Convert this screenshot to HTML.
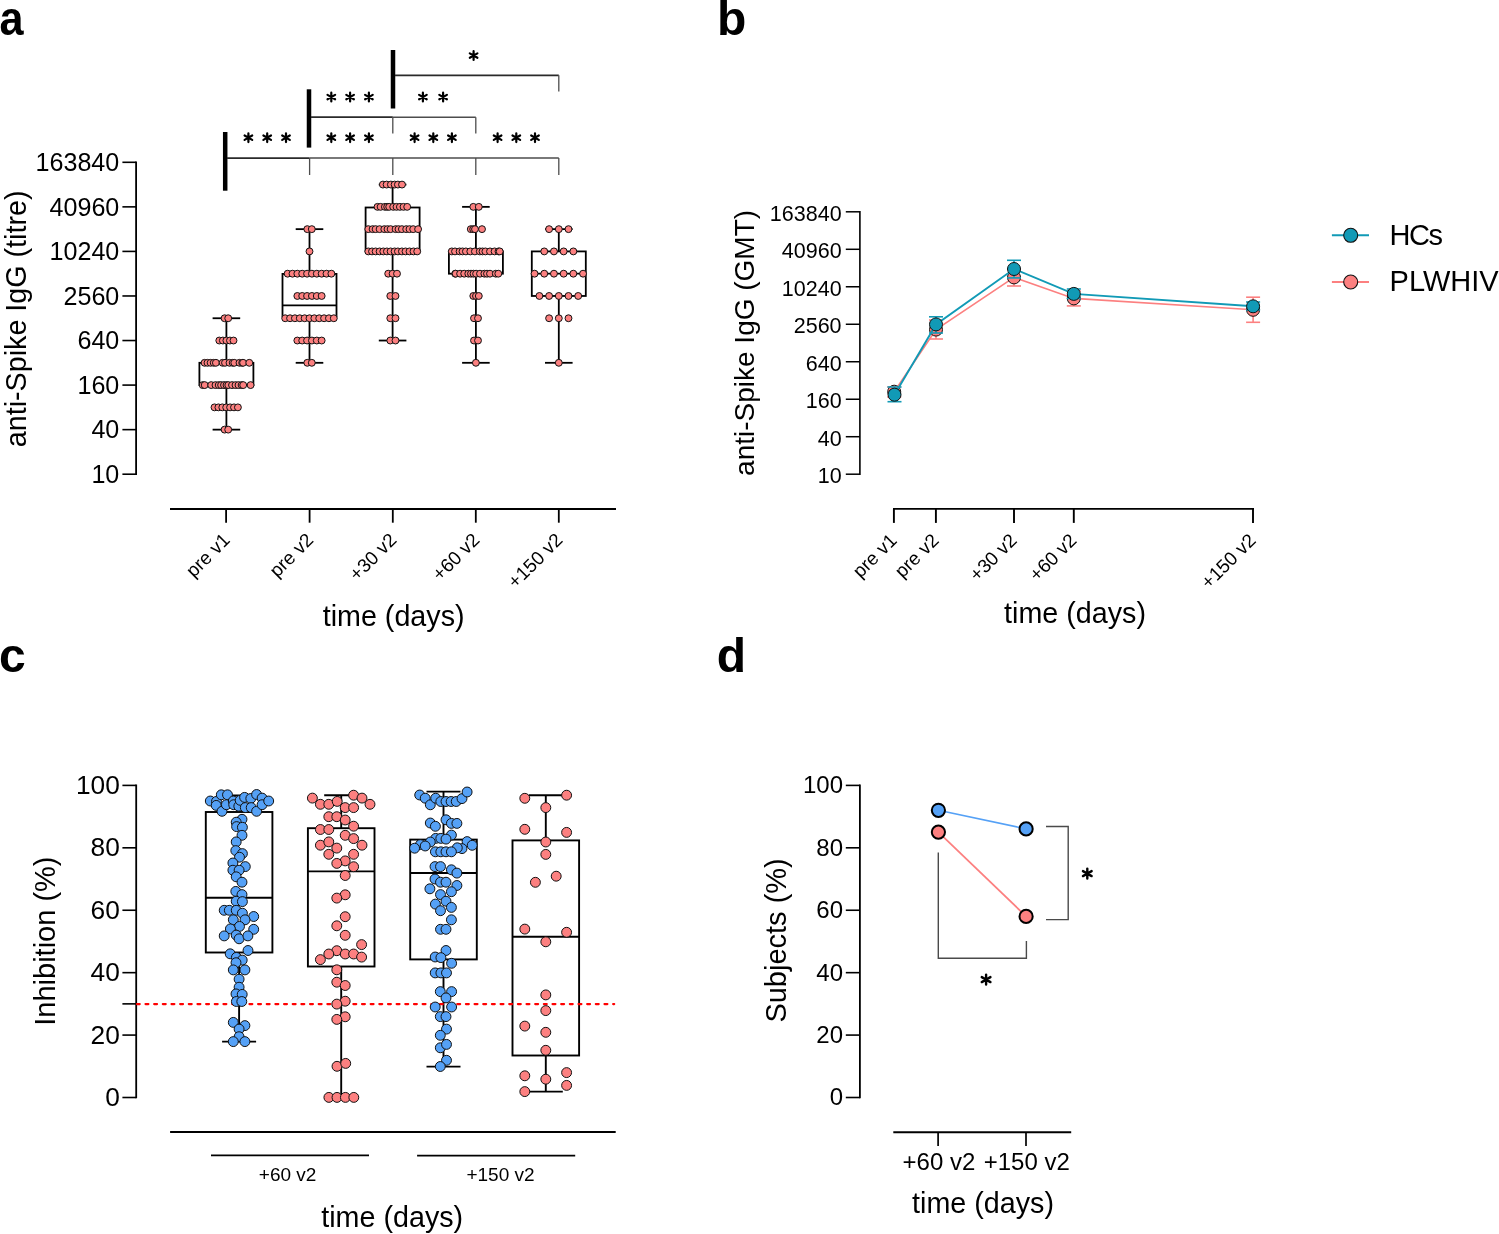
<!DOCTYPE html>
<html><head><meta charset="utf-8"><style>
html,body{margin:0;padding:0;background:#fff;}
svg{display:block;}
text{font-family:"Liberation Sans", sans-serif;}
</style></head><body>
<svg style="will-change:transform" width="1499" height="1234" viewBox="0 0 1499 1234">
<rect width="1499" height="1234" fill="#fff"/>
<text x="0" y="0" font-size="48" font-weight="bold" transform="translate(-0.4,35.2) scale(0.9,1.02)">a</text>
<text x="717.00" y="35.00" font-size="48" text-anchor="start" font-weight="bold" fill="#000">b</text>
<text x="-1.00" y="671.50" font-size="48" text-anchor="start" font-weight="bold" fill="#000">c</text>
<text x="716.70" y="671.50" font-size="48" text-anchor="start" font-weight="bold" fill="#000">d</text>
<line x1="136.10" y1="161.50" x2="136.10" y2="475.00" stroke="#000" stroke-width="1.8"/>
<line x1="122.40" y1="162.30" x2="136.10" y2="162.30" stroke="#000" stroke-width="1.6"/>
<text x="119.30" y="171.10" font-size="25.1" text-anchor="end" font-weight="normal" fill="#000">163840</text>
<line x1="122.40" y1="206.86" x2="136.10" y2="206.86" stroke="#000" stroke-width="1.6"/>
<text x="119.30" y="215.66" font-size="25.1" text-anchor="end" font-weight="normal" fill="#000">40960</text>
<line x1="122.40" y1="251.41" x2="136.10" y2="251.41" stroke="#000" stroke-width="1.6"/>
<text x="119.30" y="260.21" font-size="25.1" text-anchor="end" font-weight="normal" fill="#000">10240</text>
<line x1="122.40" y1="295.97" x2="136.10" y2="295.97" stroke="#000" stroke-width="1.6"/>
<text x="119.30" y="304.77" font-size="25.1" text-anchor="end" font-weight="normal" fill="#000">2560</text>
<line x1="122.40" y1="340.53" x2="136.10" y2="340.53" stroke="#000" stroke-width="1.6"/>
<text x="119.30" y="349.33" font-size="25.1" text-anchor="end" font-weight="normal" fill="#000">640</text>
<line x1="122.40" y1="385.09" x2="136.10" y2="385.09" stroke="#000" stroke-width="1.6"/>
<text x="119.30" y="393.89" font-size="25.1" text-anchor="end" font-weight="normal" fill="#000">160</text>
<line x1="122.40" y1="429.64" x2="136.10" y2="429.64" stroke="#000" stroke-width="1.6"/>
<text x="119.30" y="438.44" font-size="25.1" text-anchor="end" font-weight="normal" fill="#000">40</text>
<line x1="122.40" y1="474.20" x2="136.10" y2="474.20" stroke="#000" stroke-width="1.6"/>
<text x="119.30" y="483.00" font-size="25.1" text-anchor="end" font-weight="normal" fill="#000">10</text>
<text x="26.30" y="318.90" font-size="28.7" text-anchor="middle" font-weight="normal" fill="#000" transform="rotate(-90 26.3 318.9)">anti-Spike IgG (titre)</text>
<line x1="170.00" y1="508.90" x2="616.00" y2="508.90" stroke="#000" stroke-width="2.0"/>
<line x1="226.10" y1="508.90" x2="226.10" y2="522.70" stroke="#000" stroke-width="1.8"/>
<line x1="309.60" y1="508.90" x2="309.60" y2="522.70" stroke="#000" stroke-width="1.8"/>
<line x1="392.80" y1="508.90" x2="392.80" y2="522.70" stroke="#000" stroke-width="1.8"/>
<line x1="475.80" y1="508.90" x2="475.80" y2="522.70" stroke="#000" stroke-width="1.8"/>
<line x1="558.80" y1="508.90" x2="558.80" y2="522.70" stroke="#000" stroke-width="1.8"/>
<text x="0" y="0" font-size="19" text-anchor="end" transform="translate(231.10,541.00) rotate(-45)">pre v1</text>
<text x="0" y="0" font-size="19" text-anchor="end" transform="translate(314.60,541.00) rotate(-45)">pre v2</text>
<text x="0" y="0" font-size="19" text-anchor="end" transform="translate(397.80,541.00) rotate(-45)">+30 v2</text>
<text x="0" y="0" font-size="19" text-anchor="end" transform="translate(480.80,541.00) rotate(-45)">+60 v2</text>
<text x="0" y="0" font-size="19" text-anchor="end" transform="translate(563.80,541.00) rotate(-45)">+150 v2</text>
<text x="393.60" y="626.10" font-size="28.7" text-anchor="middle" font-weight="normal" fill="#000">time (days)</text>
<line x1="226.40" y1="318.25" x2="226.40" y2="362.81" stroke="#000" stroke-width="1.8"/>
<line x1="226.40" y1="385.09" x2="226.40" y2="429.64" stroke="#000" stroke-width="1.8"/>
<line x1="212.60" y1="318.25" x2="240.20" y2="318.25" stroke="#000" stroke-width="1.8"/>
<line x1="212.60" y1="429.64" x2="240.20" y2="429.64" stroke="#000" stroke-width="1.8"/>
<rect x="199.40" y="362.81" width="54.00" height="22.28" fill="none" stroke="#000" stroke-width="1.8"/>
<circle cx="224.60" cy="318.25" r="3.45" fill="#FC8080" stroke="#111" stroke-width="1.0"/>
<circle cx="228.20" cy="318.25" r="3.45" fill="#FC8080" stroke="#111" stroke-width="1.0"/>
<circle cx="219.30" cy="340.53" r="3.45" fill="#FC8080" stroke="#111" stroke-width="1.0"/>
<circle cx="222.85" cy="340.53" r="3.45" fill="#FC8080" stroke="#111" stroke-width="1.0"/>
<circle cx="226.40" cy="340.53" r="3.45" fill="#FC8080" stroke="#111" stroke-width="1.0"/>
<circle cx="229.95" cy="340.53" r="3.45" fill="#FC8080" stroke="#111" stroke-width="1.0"/>
<circle cx="233.50" cy="340.53" r="3.45" fill="#FC8080" stroke="#111" stroke-width="1.0"/>
<circle cx="204.60" cy="362.81" r="3.45" fill="#FC8080" stroke="#111" stroke-width="1.0"/>
<circle cx="207.50" cy="362.81" r="3.45" fill="#FC8080" stroke="#111" stroke-width="1.0"/>
<circle cx="210.60" cy="362.81" r="3.45" fill="#FC8080" stroke="#111" stroke-width="1.0"/>
<circle cx="213.70" cy="362.81" r="3.45" fill="#FC8080" stroke="#111" stroke-width="1.0"/>
<circle cx="215.90" cy="362.81" r="3.45" fill="#FC8080" stroke="#111" stroke-width="1.0"/>
<circle cx="222.60" cy="362.81" r="3.45" fill="#FC8080" stroke="#111" stroke-width="1.0"/>
<circle cx="225.00" cy="362.81" r="3.45" fill="#FC8080" stroke="#111" stroke-width="1.0"/>
<circle cx="229.50" cy="362.81" r="3.45" fill="#FC8080" stroke="#111" stroke-width="1.0"/>
<circle cx="232.70" cy="362.81" r="3.45" fill="#FC8080" stroke="#111" stroke-width="1.0"/>
<circle cx="234.30" cy="362.81" r="3.45" fill="#FC8080" stroke="#111" stroke-width="1.0"/>
<circle cx="239.50" cy="362.81" r="3.45" fill="#FC8080" stroke="#111" stroke-width="1.0"/>
<circle cx="242.20" cy="362.81" r="3.45" fill="#FC8080" stroke="#111" stroke-width="1.0"/>
<circle cx="243.10" cy="362.81" r="3.45" fill="#FC8080" stroke="#111" stroke-width="1.0"/>
<circle cx="249.30" cy="362.81" r="3.45" fill="#FC8080" stroke="#111" stroke-width="1.0"/>
<circle cx="202.70" cy="385.09" r="3.45" fill="#FC8080" stroke="#111" stroke-width="1.0"/>
<circle cx="204.70" cy="385.09" r="3.45" fill="#FC8080" stroke="#111" stroke-width="1.0"/>
<circle cx="211.20" cy="385.09" r="3.45" fill="#FC8080" stroke="#111" stroke-width="1.0"/>
<circle cx="215.50" cy="385.09" r="3.45" fill="#FC8080" stroke="#111" stroke-width="1.0"/>
<circle cx="218.70" cy="385.09" r="3.45" fill="#FC8080" stroke="#111" stroke-width="1.0"/>
<circle cx="221.10" cy="385.09" r="3.45" fill="#FC8080" stroke="#111" stroke-width="1.0"/>
<circle cx="224.00" cy="385.09" r="3.45" fill="#FC8080" stroke="#111" stroke-width="1.0"/>
<circle cx="226.50" cy="385.09" r="3.45" fill="#FC8080" stroke="#111" stroke-width="1.0"/>
<circle cx="228.30" cy="385.09" r="3.45" fill="#FC8080" stroke="#111" stroke-width="1.0"/>
<circle cx="232.00" cy="385.09" r="3.45" fill="#FC8080" stroke="#111" stroke-width="1.0"/>
<circle cx="235.50" cy="385.09" r="3.45" fill="#FC8080" stroke="#111" stroke-width="1.0"/>
<circle cx="238.50" cy="385.09" r="3.45" fill="#FC8080" stroke="#111" stroke-width="1.0"/>
<circle cx="241.60" cy="385.09" r="3.45" fill="#FC8080" stroke="#111" stroke-width="1.0"/>
<circle cx="243.20" cy="385.09" r="3.45" fill="#FC8080" stroke="#111" stroke-width="1.0"/>
<circle cx="250.60" cy="385.09" r="3.45" fill="#FC8080" stroke="#111" stroke-width="1.0"/>
<circle cx="214.50" cy="407.36" r="3.45" fill="#FC8080" stroke="#111" stroke-width="1.0"/>
<circle cx="218.40" cy="407.36" r="3.45" fill="#FC8080" stroke="#111" stroke-width="1.0"/>
<circle cx="222.30" cy="407.36" r="3.45" fill="#FC8080" stroke="#111" stroke-width="1.0"/>
<circle cx="226.20" cy="407.36" r="3.45" fill="#FC8080" stroke="#111" stroke-width="1.0"/>
<circle cx="230.10" cy="407.36" r="3.45" fill="#FC8080" stroke="#111" stroke-width="1.0"/>
<circle cx="234.00" cy="407.36" r="3.45" fill="#FC8080" stroke="#111" stroke-width="1.0"/>
<circle cx="237.90" cy="407.36" r="3.45" fill="#FC8080" stroke="#111" stroke-width="1.0"/>
<circle cx="224.60" cy="429.64" r="3.45" fill="#FC8080" stroke="#111" stroke-width="1.0"/>
<circle cx="228.20" cy="429.64" r="3.45" fill="#FC8080" stroke="#111" stroke-width="1.0"/>
<line x1="309.50" y1="229.14" x2="309.50" y2="273.90" stroke="#000" stroke-width="1.8"/>
<line x1="309.50" y1="316.30" x2="309.50" y2="362.81" stroke="#000" stroke-width="1.8"/>
<line x1="295.70" y1="229.14" x2="323.30" y2="229.14" stroke="#000" stroke-width="1.8"/>
<line x1="295.70" y1="362.81" x2="323.30" y2="362.81" stroke="#000" stroke-width="1.8"/>
<rect x="282.50" y="273.90" width="54.00" height="42.40" fill="none" stroke="#000" stroke-width="1.8"/>
<line x1="282.50" y1="305.40" x2="336.50" y2="305.40" stroke="#000" stroke-width="1.8"/>
<circle cx="307.30" cy="229.14" r="3.45" fill="#FC8080" stroke="#111" stroke-width="1.0"/>
<circle cx="311.80" cy="229.14" r="3.45" fill="#FC8080" stroke="#111" stroke-width="1.0"/>
<circle cx="309.50" cy="251.41" r="3.45" fill="#FC8080" stroke="#111" stroke-width="1.0"/>
<circle cx="287.63" cy="273.69" r="3.45" fill="#FC8080" stroke="#111" stroke-width="1.0"/>
<circle cx="292.49" cy="273.69" r="3.45" fill="#FC8080" stroke="#111" stroke-width="1.0"/>
<circle cx="297.35" cy="273.69" r="3.45" fill="#FC8080" stroke="#111" stroke-width="1.0"/>
<circle cx="302.21" cy="273.69" r="3.45" fill="#FC8080" stroke="#111" stroke-width="1.0"/>
<circle cx="307.07" cy="273.69" r="3.45" fill="#FC8080" stroke="#111" stroke-width="1.0"/>
<circle cx="311.93" cy="273.69" r="3.45" fill="#FC8080" stroke="#111" stroke-width="1.0"/>
<circle cx="316.79" cy="273.69" r="3.45" fill="#FC8080" stroke="#111" stroke-width="1.0"/>
<circle cx="321.65" cy="273.69" r="3.45" fill="#FC8080" stroke="#111" stroke-width="1.0"/>
<circle cx="326.51" cy="273.69" r="3.45" fill="#FC8080" stroke="#111" stroke-width="1.0"/>
<circle cx="331.37" cy="273.69" r="3.45" fill="#FC8080" stroke="#111" stroke-width="1.0"/>
<circle cx="297.35" cy="295.97" r="3.45" fill="#FC8080" stroke="#111" stroke-width="1.0"/>
<circle cx="302.21" cy="295.97" r="3.45" fill="#FC8080" stroke="#111" stroke-width="1.0"/>
<circle cx="307.07" cy="295.97" r="3.45" fill="#FC8080" stroke="#111" stroke-width="1.0"/>
<circle cx="311.93" cy="295.97" r="3.45" fill="#FC8080" stroke="#111" stroke-width="1.0"/>
<circle cx="316.79" cy="295.97" r="3.45" fill="#FC8080" stroke="#111" stroke-width="1.0"/>
<circle cx="321.65" cy="295.97" r="3.45" fill="#FC8080" stroke="#111" stroke-width="1.0"/>
<circle cx="285.20" cy="318.25" r="3.45" fill="#FC8080" stroke="#111" stroke-width="1.0"/>
<circle cx="290.06" cy="318.25" r="3.45" fill="#FC8080" stroke="#111" stroke-width="1.0"/>
<circle cx="294.92" cy="318.25" r="3.45" fill="#FC8080" stroke="#111" stroke-width="1.0"/>
<circle cx="299.78" cy="318.25" r="3.45" fill="#FC8080" stroke="#111" stroke-width="1.0"/>
<circle cx="304.64" cy="318.25" r="3.45" fill="#FC8080" stroke="#111" stroke-width="1.0"/>
<circle cx="309.50" cy="318.25" r="3.45" fill="#FC8080" stroke="#111" stroke-width="1.0"/>
<circle cx="314.36" cy="318.25" r="3.45" fill="#FC8080" stroke="#111" stroke-width="1.0"/>
<circle cx="319.22" cy="318.25" r="3.45" fill="#FC8080" stroke="#111" stroke-width="1.0"/>
<circle cx="324.08" cy="318.25" r="3.45" fill="#FC8080" stroke="#111" stroke-width="1.0"/>
<circle cx="328.94" cy="318.25" r="3.45" fill="#FC8080" stroke="#111" stroke-width="1.0"/>
<circle cx="333.80" cy="318.25" r="3.45" fill="#FC8080" stroke="#111" stroke-width="1.0"/>
<circle cx="297.35" cy="340.53" r="3.45" fill="#FC8080" stroke="#111" stroke-width="1.0"/>
<circle cx="302.21" cy="340.53" r="3.45" fill="#FC8080" stroke="#111" stroke-width="1.0"/>
<circle cx="307.07" cy="340.53" r="3.45" fill="#FC8080" stroke="#111" stroke-width="1.0"/>
<circle cx="311.93" cy="340.53" r="3.45" fill="#FC8080" stroke="#111" stroke-width="1.0"/>
<circle cx="316.79" cy="340.53" r="3.45" fill="#FC8080" stroke="#111" stroke-width="1.0"/>
<circle cx="321.65" cy="340.53" r="3.45" fill="#FC8080" stroke="#111" stroke-width="1.0"/>
<circle cx="307.30" cy="362.81" r="3.45" fill="#FC8080" stroke="#111" stroke-width="1.0"/>
<circle cx="311.80" cy="362.81" r="3.45" fill="#FC8080" stroke="#111" stroke-width="1.0"/>
<line x1="392.60" y1="184.58" x2="392.60" y2="207.50" stroke="#000" stroke-width="1.8"/>
<line x1="392.60" y1="251.41" x2="392.60" y2="340.53" stroke="#000" stroke-width="1.8"/>
<line x1="378.80" y1="184.58" x2="406.40" y2="184.58" stroke="#000" stroke-width="1.8"/>
<line x1="378.80" y1="340.53" x2="406.40" y2="340.53" stroke="#000" stroke-width="1.8"/>
<rect x="365.60" y="207.50" width="54.00" height="43.91" fill="none" stroke="#000" stroke-width="1.8"/>
<line x1="365.60" y1="229.14" x2="419.60" y2="229.14" stroke="#000" stroke-width="1.8"/>
<circle cx="382.90" cy="184.58" r="3.45" fill="#FC8080" stroke="#111" stroke-width="1.0"/>
<circle cx="386.60" cy="184.58" r="3.45" fill="#FC8080" stroke="#111" stroke-width="1.0"/>
<circle cx="390.90" cy="184.58" r="3.45" fill="#FC8080" stroke="#111" stroke-width="1.0"/>
<circle cx="394.60" cy="184.58" r="3.45" fill="#FC8080" stroke="#111" stroke-width="1.0"/>
<circle cx="397.90" cy="184.58" r="3.45" fill="#FC8080" stroke="#111" stroke-width="1.0"/>
<circle cx="402.00" cy="184.58" r="3.45" fill="#FC8080" stroke="#111" stroke-width="1.0"/>
<circle cx="377.50" cy="206.86" r="3.45" fill="#FC8080" stroke="#111" stroke-width="1.0"/>
<circle cx="380.60" cy="206.86" r="3.45" fill="#FC8080" stroke="#111" stroke-width="1.0"/>
<circle cx="384.90" cy="206.86" r="3.45" fill="#FC8080" stroke="#111" stroke-width="1.0"/>
<circle cx="387.20" cy="206.86" r="3.45" fill="#FC8080" stroke="#111" stroke-width="1.0"/>
<circle cx="389.20" cy="206.86" r="3.45" fill="#FC8080" stroke="#111" stroke-width="1.0"/>
<circle cx="393.20" cy="206.86" r="3.45" fill="#FC8080" stroke="#111" stroke-width="1.0"/>
<circle cx="396.50" cy="206.86" r="3.45" fill="#FC8080" stroke="#111" stroke-width="1.0"/>
<circle cx="399.90" cy="206.86" r="3.45" fill="#FC8080" stroke="#111" stroke-width="1.0"/>
<circle cx="403.50" cy="206.86" r="3.45" fill="#FC8080" stroke="#111" stroke-width="1.0"/>
<circle cx="407.20" cy="206.86" r="3.45" fill="#FC8080" stroke="#111" stroke-width="1.0"/>
<circle cx="368.30" cy="229.14" r="3.45" fill="#FC8080" stroke="#111" stroke-width="1.0"/>
<circle cx="372.60" cy="229.14" r="3.45" fill="#FC8080" stroke="#111" stroke-width="1.0"/>
<circle cx="375.60" cy="229.14" r="3.45" fill="#FC8080" stroke="#111" stroke-width="1.0"/>
<circle cx="379.60" cy="229.14" r="3.45" fill="#FC8080" stroke="#111" stroke-width="1.0"/>
<circle cx="384.30" cy="229.14" r="3.45" fill="#FC8080" stroke="#111" stroke-width="1.0"/>
<circle cx="387.50" cy="229.14" r="3.45" fill="#FC8080" stroke="#111" stroke-width="1.0"/>
<circle cx="390.60" cy="229.14" r="3.45" fill="#FC8080" stroke="#111" stroke-width="1.0"/>
<circle cx="395.60" cy="229.14" r="3.45" fill="#FC8080" stroke="#111" stroke-width="1.0"/>
<circle cx="398.50" cy="229.14" r="3.45" fill="#FC8080" stroke="#111" stroke-width="1.0"/>
<circle cx="401.90" cy="229.14" r="3.45" fill="#FC8080" stroke="#111" stroke-width="1.0"/>
<circle cx="406.20" cy="229.14" r="3.45" fill="#FC8080" stroke="#111" stroke-width="1.0"/>
<circle cx="409.50" cy="229.14" r="3.45" fill="#FC8080" stroke="#111" stroke-width="1.0"/>
<circle cx="413.20" cy="229.14" r="3.45" fill="#FC8080" stroke="#111" stroke-width="1.0"/>
<circle cx="418.10" cy="229.14" r="3.45" fill="#FC8080" stroke="#111" stroke-width="1.0"/>
<circle cx="368.30" cy="251.41" r="3.45" fill="#FC8080" stroke="#111" stroke-width="1.0"/>
<circle cx="372.00" cy="251.41" r="3.45" fill="#FC8080" stroke="#111" stroke-width="1.0"/>
<circle cx="375.60" cy="251.41" r="3.45" fill="#FC8080" stroke="#111" stroke-width="1.0"/>
<circle cx="379.60" cy="251.41" r="3.45" fill="#FC8080" stroke="#111" stroke-width="1.0"/>
<circle cx="383.30" cy="251.41" r="3.45" fill="#FC8080" stroke="#111" stroke-width="1.0"/>
<circle cx="386.90" cy="251.41" r="3.45" fill="#FC8080" stroke="#111" stroke-width="1.0"/>
<circle cx="390.60" cy="251.41" r="3.45" fill="#FC8080" stroke="#111" stroke-width="1.0"/>
<circle cx="394.60" cy="251.41" r="3.45" fill="#FC8080" stroke="#111" stroke-width="1.0"/>
<circle cx="397.90" cy="251.41" r="3.45" fill="#FC8080" stroke="#111" stroke-width="1.0"/>
<circle cx="401.90" cy="251.41" r="3.45" fill="#FC8080" stroke="#111" stroke-width="1.0"/>
<circle cx="405.50" cy="251.41" r="3.45" fill="#FC8080" stroke="#111" stroke-width="1.0"/>
<circle cx="409.50" cy="251.41" r="3.45" fill="#FC8080" stroke="#111" stroke-width="1.0"/>
<circle cx="413.50" cy="251.41" r="3.45" fill="#FC8080" stroke="#111" stroke-width="1.0"/>
<circle cx="417.20" cy="251.41" r="3.45" fill="#FC8080" stroke="#111" stroke-width="1.0"/>
<circle cx="388.20" cy="273.69" r="3.45" fill="#FC8080" stroke="#111" stroke-width="1.0"/>
<circle cx="392.60" cy="273.69" r="3.45" fill="#FC8080" stroke="#111" stroke-width="1.0"/>
<circle cx="397.00" cy="273.69" r="3.45" fill="#FC8080" stroke="#111" stroke-width="1.0"/>
<circle cx="390.30" cy="295.97" r="3.45" fill="#FC8080" stroke="#111" stroke-width="1.0"/>
<circle cx="395.50" cy="295.97" r="3.45" fill="#FC8080" stroke="#111" stroke-width="1.0"/>
<circle cx="390.30" cy="318.25" r="3.45" fill="#FC8080" stroke="#111" stroke-width="1.0"/>
<circle cx="395.50" cy="318.25" r="3.45" fill="#FC8080" stroke="#111" stroke-width="1.0"/>
<circle cx="390.30" cy="340.53" r="3.45" fill="#FC8080" stroke="#111" stroke-width="1.0"/>
<circle cx="395.50" cy="340.53" r="3.45" fill="#FC8080" stroke="#111" stroke-width="1.0"/>
<line x1="475.90" y1="206.86" x2="475.90" y2="251.41" stroke="#000" stroke-width="1.8"/>
<line x1="475.90" y1="273.69" x2="475.90" y2="362.81" stroke="#000" stroke-width="1.8"/>
<line x1="462.10" y1="206.86" x2="489.70" y2="206.86" stroke="#000" stroke-width="1.8"/>
<line x1="462.10" y1="362.81" x2="489.70" y2="362.81" stroke="#000" stroke-width="1.8"/>
<rect x="448.90" y="251.41" width="54.00" height="22.28" fill="none" stroke="#000" stroke-width="1.8"/>
<circle cx="473.30" cy="206.86" r="3.45" fill="#FC8080" stroke="#111" stroke-width="1.0"/>
<circle cx="478.80" cy="206.86" r="3.45" fill="#FC8080" stroke="#111" stroke-width="1.0"/>
<circle cx="470.80" cy="229.14" r="3.45" fill="#FC8080" stroke="#111" stroke-width="1.0"/>
<circle cx="473.20" cy="229.14" r="3.45" fill="#FC8080" stroke="#111" stroke-width="1.0"/>
<circle cx="475.00" cy="229.14" r="3.45" fill="#FC8080" stroke="#111" stroke-width="1.0"/>
<circle cx="482.00" cy="229.14" r="3.45" fill="#FC8080" stroke="#111" stroke-width="1.0"/>
<circle cx="451.80" cy="251.41" r="3.45" fill="#FC8080" stroke="#111" stroke-width="1.0"/>
<circle cx="455.00" cy="251.41" r="3.45" fill="#FC8080" stroke="#111" stroke-width="1.0"/>
<circle cx="459.60" cy="251.41" r="3.45" fill="#FC8080" stroke="#111" stroke-width="1.0"/>
<circle cx="462.50" cy="251.41" r="3.45" fill="#FC8080" stroke="#111" stroke-width="1.0"/>
<circle cx="465.90" cy="251.41" r="3.45" fill="#FC8080" stroke="#111" stroke-width="1.0"/>
<circle cx="470.30" cy="251.41" r="3.45" fill="#FC8080" stroke="#111" stroke-width="1.0"/>
<circle cx="474.90" cy="251.41" r="3.45" fill="#FC8080" stroke="#111" stroke-width="1.0"/>
<circle cx="479.80" cy="251.41" r="3.45" fill="#FC8080" stroke="#111" stroke-width="1.0"/>
<circle cx="482.50" cy="251.41" r="3.45" fill="#FC8080" stroke="#111" stroke-width="1.0"/>
<circle cx="485.40" cy="251.41" r="3.45" fill="#FC8080" stroke="#111" stroke-width="1.0"/>
<circle cx="490.00" cy="251.41" r="3.45" fill="#FC8080" stroke="#111" stroke-width="1.0"/>
<circle cx="494.60" cy="251.41" r="3.45" fill="#FC8080" stroke="#111" stroke-width="1.0"/>
<circle cx="498.50" cy="251.41" r="3.45" fill="#FC8080" stroke="#111" stroke-width="1.0"/>
<circle cx="499.70" cy="251.41" r="3.45" fill="#FC8080" stroke="#111" stroke-width="1.0"/>
<circle cx="455.20" cy="273.69" r="3.45" fill="#FC8080" stroke="#111" stroke-width="1.0"/>
<circle cx="455.70" cy="273.69" r="3.45" fill="#FC8080" stroke="#111" stroke-width="1.0"/>
<circle cx="460.10" cy="273.69" r="3.45" fill="#FC8080" stroke="#111" stroke-width="1.0"/>
<circle cx="464.20" cy="273.69" r="3.45" fill="#FC8080" stroke="#111" stroke-width="1.0"/>
<circle cx="468.30" cy="273.69" r="3.45" fill="#FC8080" stroke="#111" stroke-width="1.0"/>
<circle cx="471.00" cy="273.69" r="3.45" fill="#FC8080" stroke="#111" stroke-width="1.0"/>
<circle cx="473.50" cy="273.69" r="3.45" fill="#FC8080" stroke="#111" stroke-width="1.0"/>
<circle cx="476.10" cy="273.69" r="3.45" fill="#FC8080" stroke="#111" stroke-width="1.0"/>
<circle cx="480.00" cy="273.69" r="3.45" fill="#FC8080" stroke="#111" stroke-width="1.0"/>
<circle cx="484.40" cy="273.69" r="3.45" fill="#FC8080" stroke="#111" stroke-width="1.0"/>
<circle cx="487.00" cy="273.69" r="3.45" fill="#FC8080" stroke="#111" stroke-width="1.0"/>
<circle cx="490.00" cy="273.69" r="3.45" fill="#FC8080" stroke="#111" stroke-width="1.0"/>
<circle cx="495.80" cy="273.69" r="3.45" fill="#FC8080" stroke="#111" stroke-width="1.0"/>
<circle cx="498.30" cy="273.69" r="3.45" fill="#FC8080" stroke="#111" stroke-width="1.0"/>
<circle cx="473.30" cy="295.97" r="3.45" fill="#FC8080" stroke="#111" stroke-width="1.0"/>
<circle cx="476.00" cy="295.97" r="3.45" fill="#FC8080" stroke="#111" stroke-width="1.0"/>
<circle cx="478.80" cy="295.97" r="3.45" fill="#FC8080" stroke="#111" stroke-width="1.0"/>
<circle cx="474.00" cy="318.25" r="3.45" fill="#FC8080" stroke="#111" stroke-width="1.0"/>
<circle cx="478.00" cy="318.25" r="3.45" fill="#FC8080" stroke="#111" stroke-width="1.0"/>
<circle cx="474.00" cy="340.53" r="3.45" fill="#FC8080" stroke="#111" stroke-width="1.0"/>
<circle cx="478.00" cy="340.53" r="3.45" fill="#FC8080" stroke="#111" stroke-width="1.0"/>
<circle cx="475.90" cy="362.81" r="3.45" fill="#FC8080" stroke="#111" stroke-width="1.0"/>
<line x1="558.80" y1="229.14" x2="558.80" y2="251.41" stroke="#000" stroke-width="1.8"/>
<line x1="558.80" y1="295.97" x2="558.80" y2="362.81" stroke="#000" stroke-width="1.8"/>
<line x1="545.00" y1="229.14" x2="572.60" y2="229.14" stroke="#000" stroke-width="1.8"/>
<line x1="545.00" y1="362.81" x2="572.60" y2="362.81" stroke="#000" stroke-width="1.8"/>
<rect x="531.80" y="251.41" width="54.00" height="44.56" fill="none" stroke="#000" stroke-width="1.8"/>
<line x1="531.80" y1="273.69" x2="585.80" y2="273.69" stroke="#000" stroke-width="1.8"/>
<circle cx="549.10" cy="229.14" r="3.45" fill="#FC8080" stroke="#111" stroke-width="1.0"/>
<circle cx="558.80" cy="229.14" r="3.45" fill="#FC8080" stroke="#111" stroke-width="1.0"/>
<circle cx="568.50" cy="229.14" r="3.45" fill="#FC8080" stroke="#111" stroke-width="1.0"/>
<circle cx="544.25" cy="251.41" r="3.45" fill="#FC8080" stroke="#111" stroke-width="1.0"/>
<circle cx="553.95" cy="251.41" r="3.45" fill="#FC8080" stroke="#111" stroke-width="1.0"/>
<circle cx="563.65" cy="251.41" r="3.45" fill="#FC8080" stroke="#111" stroke-width="1.0"/>
<circle cx="573.35" cy="251.41" r="3.45" fill="#FC8080" stroke="#111" stroke-width="1.0"/>
<circle cx="534.55" cy="273.69" r="3.45" fill="#FC8080" stroke="#111" stroke-width="1.0"/>
<circle cx="544.25" cy="273.69" r="3.45" fill="#FC8080" stroke="#111" stroke-width="1.0"/>
<circle cx="553.95" cy="273.69" r="3.45" fill="#FC8080" stroke="#111" stroke-width="1.0"/>
<circle cx="563.65" cy="273.69" r="3.45" fill="#FC8080" stroke="#111" stroke-width="1.0"/>
<circle cx="573.35" cy="273.69" r="3.45" fill="#FC8080" stroke="#111" stroke-width="1.0"/>
<circle cx="583.05" cy="273.69" r="3.45" fill="#FC8080" stroke="#111" stroke-width="1.0"/>
<circle cx="539.40" cy="295.97" r="3.45" fill="#FC8080" stroke="#111" stroke-width="1.0"/>
<circle cx="549.10" cy="295.97" r="3.45" fill="#FC8080" stroke="#111" stroke-width="1.0"/>
<circle cx="558.80" cy="295.97" r="3.45" fill="#FC8080" stroke="#111" stroke-width="1.0"/>
<circle cx="568.50" cy="295.97" r="3.45" fill="#FC8080" stroke="#111" stroke-width="1.0"/>
<circle cx="578.20" cy="295.97" r="3.45" fill="#FC8080" stroke="#111" stroke-width="1.0"/>
<circle cx="549.10" cy="318.25" r="3.45" fill="#FC8080" stroke="#111" stroke-width="1.0"/>
<circle cx="558.80" cy="318.25" r="3.45" fill="#FC8080" stroke="#111" stroke-width="1.0"/>
<circle cx="568.50" cy="318.25" r="3.45" fill="#FC8080" stroke="#111" stroke-width="1.0"/>
<circle cx="558.80" cy="362.81" r="3.45" fill="#FC8080" stroke="#111" stroke-width="1.0"/>
<rect x="222.95" y="132.00" width="4.5" height="58.70" fill="#000"/>
<line x1="227.00" y1="158.00" x2="309.60" y2="158.00" stroke="#2a2a2a" stroke-width="1.75"/>
<line x1="309.60" y1="158.00" x2="558.80" y2="158.00" stroke="#4d4d4d" stroke-width="1.4"/>
<line x1="309.60" y1="158.00" x2="309.60" y2="175.00" stroke="#4d4d4d" stroke-width="1.3"/>
<line x1="392.80" y1="158.00" x2="392.80" y2="175.00" stroke="#4d4d4d" stroke-width="1.3"/>
<line x1="475.80" y1="158.00" x2="475.80" y2="175.00" stroke="#4d4d4d" stroke-width="1.3"/>
<line x1="558.80" y1="158.00" x2="558.80" y2="175.00" stroke="#4d4d4d" stroke-width="1.3"/>
<rect x="306.75" y="89.30" width="4.5" height="58.30" fill="#000"/>
<line x1="311.00" y1="117.20" x2="392.80" y2="117.20" stroke="#2a2a2a" stroke-width="1.75"/>
<line x1="392.80" y1="117.20" x2="475.80" y2="117.20" stroke="#4d4d4d" stroke-width="1.4"/>
<line x1="392.80" y1="117.20" x2="392.80" y2="133.40" stroke="#4d4d4d" stroke-width="1.3"/>
<line x1="475.80" y1="117.20" x2="475.80" y2="133.40" stroke="#4d4d4d" stroke-width="1.3"/>
<rect x="390.75" y="50.00" width="4.5" height="58.50" fill="#000"/>
<line x1="395.00" y1="75.30" x2="558.80" y2="75.30" stroke="#2a2a2a" stroke-width="1.75"/>
<line x1="558.80" y1="75.30" x2="558.80" y2="91.60" stroke="#4d4d4d" stroke-width="1.3"/>
<path d="M248.40,133.30L248.40,142.10M244.59,135.50L252.21,139.90M244.59,139.90L252.21,135.50" stroke="#000" stroke-width="2.2" stroke-linecap="round" fill="none"/>
<path d="M267.20,133.30L267.20,142.10M263.39,135.50L271.01,139.90M263.39,139.90L271.01,135.50" stroke="#000" stroke-width="2.2" stroke-linecap="round" fill="none"/>
<path d="M286.00,133.30L286.00,142.10M282.19,135.50L289.81,139.90M282.19,139.90L289.81,135.50" stroke="#000" stroke-width="2.2" stroke-linecap="round" fill="none"/>
<path d="M331.30,133.30L331.30,142.10M327.49,135.50L335.11,139.90M327.49,139.90L335.11,135.50" stroke="#000" stroke-width="2.2" stroke-linecap="round" fill="none"/>
<path d="M350.10,133.30L350.10,142.10M346.29,135.50L353.91,139.90M346.29,139.90L353.91,135.50" stroke="#000" stroke-width="2.2" stroke-linecap="round" fill="none"/>
<path d="M368.90,133.30L368.90,142.10M365.09,135.50L372.71,139.90M365.09,139.90L372.71,135.50" stroke="#000" stroke-width="2.2" stroke-linecap="round" fill="none"/>
<path d="M414.60,133.30L414.60,142.10M410.79,135.50L418.41,139.90M410.79,139.90L418.41,135.50" stroke="#000" stroke-width="2.2" stroke-linecap="round" fill="none"/>
<path d="M433.30,133.30L433.30,142.10M429.49,135.50L437.11,139.90M429.49,139.90L437.11,135.50" stroke="#000" stroke-width="2.2" stroke-linecap="round" fill="none"/>
<path d="M451.90,133.30L451.90,142.10M448.09,135.50L455.71,139.90M448.09,139.90L455.71,135.50" stroke="#000" stroke-width="2.2" stroke-linecap="round" fill="none"/>
<path d="M497.60,133.30L497.60,142.10M493.79,135.50L501.41,139.90M493.79,139.90L501.41,135.50" stroke="#000" stroke-width="2.2" stroke-linecap="round" fill="none"/>
<path d="M516.30,133.30L516.30,142.10M512.49,135.50L520.11,139.90M512.49,139.90L520.11,135.50" stroke="#000" stroke-width="2.2" stroke-linecap="round" fill="none"/>
<path d="M535.00,133.30L535.00,142.10M531.19,135.50L538.81,139.90M531.19,139.90L538.81,135.50" stroke="#000" stroke-width="2.2" stroke-linecap="round" fill="none"/>
<path d="M331.30,92.70L331.30,101.50M327.49,94.90L335.11,99.30M327.49,99.30L335.11,94.90" stroke="#000" stroke-width="2.2" stroke-linecap="round" fill="none"/>
<path d="M350.10,92.70L350.10,101.50M346.29,94.90L353.91,99.30M346.29,99.30L353.91,94.90" stroke="#000" stroke-width="2.2" stroke-linecap="round" fill="none"/>
<path d="M368.90,92.70L368.90,101.50M365.09,94.90L372.71,99.30M365.09,99.30L372.71,94.90" stroke="#000" stroke-width="2.2" stroke-linecap="round" fill="none"/>
<path d="M422.90,92.70L422.90,101.50M419.09,94.90L426.71,99.30M419.09,99.30L426.71,94.90" stroke="#000" stroke-width="2.2" stroke-linecap="round" fill="none"/>
<path d="M443.10,92.70L443.10,101.50M439.29,94.90L446.91,99.30M439.29,99.30L446.91,94.90" stroke="#000" stroke-width="2.2" stroke-linecap="round" fill="none"/>
<path d="M473.60,51.20L473.60,60.00M469.79,53.40L477.41,57.80M469.79,57.80L477.41,53.40" stroke="#000" stroke-width="2.2" stroke-linecap="round" fill="none"/>
<line x1="859.90" y1="211.00" x2="859.90" y2="475.00" stroke="#000" stroke-width="1.6"/>
<line x1="845.80" y1="211.80" x2="859.90" y2="211.80" stroke="#000" stroke-width="1.5"/>
<text x="841.60" y="220.60" font-size="21.5" text-anchor="end" font-weight="normal" fill="#000">163840</text>
<line x1="845.80" y1="249.29" x2="859.90" y2="249.29" stroke="#000" stroke-width="1.5"/>
<text x="841.60" y="258.09" font-size="21.5" text-anchor="end" font-weight="normal" fill="#000">40960</text>
<line x1="845.80" y1="286.77" x2="859.90" y2="286.77" stroke="#000" stroke-width="1.5"/>
<text x="841.60" y="295.57" font-size="21.5" text-anchor="end" font-weight="normal" fill="#000">10240</text>
<line x1="845.80" y1="324.26" x2="859.90" y2="324.26" stroke="#000" stroke-width="1.5"/>
<text x="841.60" y="333.06" font-size="21.5" text-anchor="end" font-weight="normal" fill="#000">2560</text>
<line x1="845.80" y1="361.74" x2="859.90" y2="361.74" stroke="#000" stroke-width="1.5"/>
<text x="841.60" y="370.54" font-size="21.5" text-anchor="end" font-weight="normal" fill="#000">640</text>
<line x1="845.80" y1="399.23" x2="859.90" y2="399.23" stroke="#000" stroke-width="1.5"/>
<text x="841.60" y="408.03" font-size="21.5" text-anchor="end" font-weight="normal" fill="#000">160</text>
<line x1="845.80" y1="436.71" x2="859.90" y2="436.71" stroke="#000" stroke-width="1.5"/>
<text x="841.60" y="445.51" font-size="21.5" text-anchor="end" font-weight="normal" fill="#000">40</text>
<line x1="845.80" y1="474.20" x2="859.90" y2="474.20" stroke="#000" stroke-width="1.5"/>
<text x="841.60" y="483.00" font-size="21.5" text-anchor="end" font-weight="normal" fill="#000">10</text>
<text x="754.00" y="342.90" font-size="28" text-anchor="middle" font-weight="normal" fill="#000" transform="rotate(-90 754 342.9)">anti-Spike IgG (GMT)</text>
<line x1="893.00" y1="508.90" x2="1254.00" y2="508.90" stroke="#000" stroke-width="1.9"/>
<line x1="893.90" y1="508.90" x2="893.90" y2="522.90" stroke="#000" stroke-width="1.9"/>
<line x1="935.90" y1="508.90" x2="935.90" y2="522.90" stroke="#000" stroke-width="1.9"/>
<line x1="1014.00" y1="508.90" x2="1014.00" y2="522.90" stroke="#000" stroke-width="1.9"/>
<line x1="1073.80" y1="508.90" x2="1073.80" y2="522.90" stroke="#000" stroke-width="1.9"/>
<line x1="1253.00" y1="508.90" x2="1253.00" y2="522.90" stroke="#000" stroke-width="1.9"/>
<text x="0" y="0" font-size="19" text-anchor="end" transform="translate(897.90,541.50) rotate(-45)">pre v1</text>
<text x="0" y="0" font-size="19" text-anchor="end" transform="translate(939.90,541.50) rotate(-45)">pre v2</text>
<text x="0" y="0" font-size="19" text-anchor="end" transform="translate(1018.00,541.50) rotate(-45)">+30 v2</text>
<text x="0" y="0" font-size="19" text-anchor="end" transform="translate(1077.80,541.50) rotate(-45)">+60 v2</text>
<text x="0" y="0" font-size="19" text-anchor="end" transform="translate(1257.00,541.50) rotate(-45)">+150 v2</text>
<text x="1075.00" y="622.90" font-size="28.7" text-anchor="middle" font-weight="normal" fill="#000">time (days)</text>
<polyline points="894.20,391.70 936.00,329.60 1014.00,277.40 1073.80,298.40 1253.10,309.80" fill="none" stroke="#FC8080" stroke-width="1.6"/>
<line x1="894.20" y1="387.00" x2="894.20" y2="397.00" stroke="#FC8080" stroke-width="1.6"/>
<line x1="887.20" y1="387.00" x2="901.20" y2="387.00" stroke="#FC8080" stroke-width="1.6"/>
<line x1="887.20" y1="397.00" x2="901.20" y2="397.00" stroke="#FC8080" stroke-width="1.6"/>
<line x1="936.00" y1="320.00" x2="936.00" y2="339.00" stroke="#FC8080" stroke-width="1.6"/>
<line x1="929.00" y1="320.00" x2="943.00" y2="320.00" stroke="#FC8080" stroke-width="1.6"/>
<line x1="929.00" y1="339.00" x2="943.00" y2="339.00" stroke="#FC8080" stroke-width="1.6"/>
<line x1="1014.00" y1="269.00" x2="1014.00" y2="286.00" stroke="#FC8080" stroke-width="1.6"/>
<line x1="1007.00" y1="269.00" x2="1021.00" y2="269.00" stroke="#FC8080" stroke-width="1.6"/>
<line x1="1007.00" y1="286.00" x2="1021.00" y2="286.00" stroke="#FC8080" stroke-width="1.6"/>
<line x1="1073.80" y1="291.00" x2="1073.80" y2="305.90" stroke="#FC8080" stroke-width="1.6"/>
<line x1="1066.80" y1="291.00" x2="1080.80" y2="291.00" stroke="#FC8080" stroke-width="1.6"/>
<line x1="1066.80" y1="305.90" x2="1080.80" y2="305.90" stroke="#FC8080" stroke-width="1.6"/>
<line x1="1253.10" y1="297.20" x2="1253.10" y2="322.30" stroke="#FC8080" stroke-width="1.6"/>
<line x1="1246.10" y1="297.20" x2="1260.10" y2="297.20" stroke="#FC8080" stroke-width="1.6"/>
<line x1="1246.10" y1="322.30" x2="1260.10" y2="322.30" stroke="#FC8080" stroke-width="1.6"/>
<circle cx="894.20" cy="391.70" r="6.5" fill="#FC8080" stroke="#111" stroke-width="1.0"/>
<circle cx="936.00" cy="329.60" r="6.5" fill="#FC8080" stroke="#111" stroke-width="1.0"/>
<circle cx="1014.00" cy="277.40" r="6.5" fill="#FC8080" stroke="#111" stroke-width="1.0"/>
<circle cx="1073.80" cy="298.40" r="6.5" fill="#FC8080" stroke="#111" stroke-width="1.0"/>
<circle cx="1253.10" cy="309.80" r="6.5" fill="#FC8080" stroke="#111" stroke-width="1.0"/>
<polyline points="894.50,394.70 936.00,324.40 1014.00,269.00 1073.80,293.90 1253.10,306.30" fill="none" stroke="#119AB6" stroke-width="1.9"/>
<line x1="894.50" y1="387.00" x2="894.50" y2="401.70" stroke="#119AB6" stroke-width="1.6"/>
<line x1="887.50" y1="387.00" x2="901.50" y2="387.00" stroke="#119AB6" stroke-width="1.6"/>
<line x1="887.50" y1="401.70" x2="901.50" y2="401.70" stroke="#119AB6" stroke-width="1.6"/>
<line x1="936.00" y1="316.80" x2="936.00" y2="333.00" stroke="#119AB6" stroke-width="1.6"/>
<line x1="929.00" y1="316.80" x2="943.00" y2="316.80" stroke="#119AB6" stroke-width="1.6"/>
<line x1="929.00" y1="333.00" x2="943.00" y2="333.00" stroke="#119AB6" stroke-width="1.6"/>
<line x1="1014.00" y1="260.30" x2="1014.00" y2="277.90" stroke="#119AB6" stroke-width="1.6"/>
<line x1="1007.00" y1="260.30" x2="1021.00" y2="260.30" stroke="#119AB6" stroke-width="1.6"/>
<line x1="1007.00" y1="277.90" x2="1021.00" y2="277.90" stroke="#119AB6" stroke-width="1.6"/>
<line x1="1073.80" y1="289.00" x2="1073.80" y2="298.50" stroke="#119AB6" stroke-width="1.6"/>
<line x1="1066.80" y1="289.00" x2="1080.80" y2="289.00" stroke="#119AB6" stroke-width="1.6"/>
<line x1="1066.80" y1="298.50" x2="1080.80" y2="298.50" stroke="#119AB6" stroke-width="1.6"/>
<line x1="1253.10" y1="302.00" x2="1253.10" y2="310.00" stroke="#119AB6" stroke-width="1.6"/>
<line x1="1246.10" y1="302.00" x2="1260.10" y2="302.00" stroke="#119AB6" stroke-width="1.6"/>
<line x1="1246.10" y1="310.00" x2="1260.10" y2="310.00" stroke="#119AB6" stroke-width="1.6"/>
<circle cx="894.50" cy="394.70" r="6.5" fill="#119AB6" stroke="#111" stroke-width="1.0"/>
<circle cx="936.00" cy="324.40" r="6.5" fill="#119AB6" stroke="#111" stroke-width="1.0"/>
<circle cx="1014.00" cy="269.00" r="6.5" fill="#119AB6" stroke="#111" stroke-width="1.0"/>
<circle cx="1073.80" cy="293.90" r="6.5" fill="#119AB6" stroke="#111" stroke-width="1.0"/>
<circle cx="1253.10" cy="306.30" r="6.5" fill="#119AB6" stroke="#111" stroke-width="1.0"/>
<line x1="1331.90" y1="235.30" x2="1369.00" y2="235.30" stroke="#119AB6" stroke-width="2.0"/>
<circle cx="1350.70" cy="235.30" r="7.0" fill="#119AB6" stroke="#111" stroke-width="1.1"/>
<text x="1389.6" y="244.6" font-size="29" letter-spacing="-1.5">HCs</text>
<line x1="1331.90" y1="282.00" x2="1369.00" y2="282.00" stroke="#FC8080" stroke-width="2.0"/>
<circle cx="1350.70" cy="282.00" r="7.0" fill="#FC8080" stroke="#111" stroke-width="1.1"/>
<text x="1389.60" y="291.10" font-size="29" text-anchor="start" font-weight="normal" fill="#000">PLWHIV</text>
<line x1="136.20" y1="784.60" x2="136.20" y2="1098.30" stroke="#000" stroke-width="1.8"/>
<line x1="122.40" y1="1097.50" x2="136.20" y2="1097.50" stroke="#000" stroke-width="1.6"/>
<text x="119.80" y="1106.10" font-size="26.3" text-anchor="end" font-weight="normal" fill="#000">0</text>
<line x1="122.40" y1="1035.08" x2="136.20" y2="1035.08" stroke="#000" stroke-width="1.6"/>
<text x="119.80" y="1043.68" font-size="26.3" text-anchor="end" font-weight="normal" fill="#000">20</text>
<line x1="122.40" y1="972.66" x2="136.20" y2="972.66" stroke="#000" stroke-width="1.6"/>
<text x="119.80" y="981.26" font-size="26.3" text-anchor="end" font-weight="normal" fill="#000">40</text>
<line x1="122.40" y1="910.24" x2="136.20" y2="910.24" stroke="#000" stroke-width="1.6"/>
<text x="119.80" y="918.84" font-size="26.3" text-anchor="end" font-weight="normal" fill="#000">60</text>
<line x1="122.40" y1="847.82" x2="136.20" y2="847.82" stroke="#000" stroke-width="1.6"/>
<text x="119.80" y="856.42" font-size="26.3" text-anchor="end" font-weight="normal" fill="#000">80</text>
<line x1="122.40" y1="785.40" x2="136.20" y2="785.40" stroke="#000" stroke-width="1.6"/>
<text x="119.80" y="794.00" font-size="26.3" text-anchor="end" font-weight="normal" fill="#000">100</text>
<line x1="122.40" y1="1003.87" x2="136.20" y2="1003.87" stroke="#000" stroke-width="1.6"/>
<text x="54.90" y="941.10" font-size="29" text-anchor="middle" font-weight="normal" fill="#000" transform="rotate(-90 54.9 941.1)">Inhibition (%)</text>
<line x1="170.10" y1="1132.00" x2="615.70" y2="1132.00" stroke="#000" stroke-width="1.9"/>
<line x1="211.00" y1="1155.40" x2="369.00" y2="1155.40" stroke="#000" stroke-width="1.8"/>
<line x1="417.10" y1="1155.60" x2="575.20" y2="1155.60" stroke="#000" stroke-width="1.8"/>
<text x="287.60" y="1181.00" font-size="19" text-anchor="middle" font-weight="normal" fill="#000">+60 v2</text>
<text x="500.50" y="1181.00" font-size="19" text-anchor="middle" font-weight="normal" fill="#000">+150 v2</text>
<text x="392.20" y="1227.20" font-size="28.7" text-anchor="middle" font-weight="normal" fill="#000">time (days)</text>
<line x1="239.10" y1="795.50" x2="239.10" y2="812.00" stroke="#000" stroke-width="1.9"/>
<line x1="239.10" y1="952.50" x2="239.10" y2="1041.60" stroke="#000" stroke-width="1.9"/>
<line x1="222.10" y1="795.50" x2="256.10" y2="795.50" stroke="#000" stroke-width="1.9"/>
<line x1="222.10" y1="1041.60" x2="256.10" y2="1041.60" stroke="#000" stroke-width="1.9"/>
<rect x="205.80" y="812.00" width="66.60" height="140.50" fill="none" stroke="#000" stroke-width="1.9"/>
<line x1="205.80" y1="897.80" x2="272.40" y2="897.80" stroke="#000" stroke-width="1.9"/>
<line x1="341.20" y1="795.20" x2="341.20" y2="828.20" stroke="#000" stroke-width="1.9"/>
<line x1="341.20" y1="966.50" x2="341.20" y2="1097.50" stroke="#000" stroke-width="1.9"/>
<line x1="324.20" y1="795.20" x2="358.20" y2="795.20" stroke="#000" stroke-width="1.9"/>
<line x1="324.20" y1="1097.50" x2="358.20" y2="1097.50" stroke="#000" stroke-width="1.9"/>
<rect x="307.90" y="828.20" width="66.60" height="138.30" fill="none" stroke="#000" stroke-width="1.9"/>
<line x1="307.90" y1="871.40" x2="374.50" y2="871.40" stroke="#000" stroke-width="1.9"/>
<line x1="443.50" y1="791.60" x2="443.50" y2="839.60" stroke="#000" stroke-width="1.9"/>
<line x1="443.50" y1="959.40" x2="443.50" y2="1066.60" stroke="#000" stroke-width="1.9"/>
<line x1="426.50" y1="791.60" x2="460.50" y2="791.60" stroke="#000" stroke-width="1.9"/>
<line x1="426.50" y1="1066.60" x2="460.50" y2="1066.60" stroke="#000" stroke-width="1.9"/>
<rect x="410.20" y="839.60" width="66.60" height="119.80" fill="none" stroke="#000" stroke-width="1.9"/>
<line x1="410.20" y1="873.00" x2="476.80" y2="873.00" stroke="#000" stroke-width="1.9"/>
<line x1="545.80" y1="795.30" x2="545.80" y2="840.40" stroke="#000" stroke-width="1.9"/>
<line x1="545.80" y1="1055.50" x2="545.80" y2="1091.60" stroke="#000" stroke-width="1.9"/>
<line x1="528.80" y1="795.30" x2="562.80" y2="795.30" stroke="#000" stroke-width="1.9"/>
<line x1="528.80" y1="1091.60" x2="562.80" y2="1091.60" stroke="#000" stroke-width="1.9"/>
<rect x="512.50" y="840.40" width="66.60" height="215.10" fill="none" stroke="#000" stroke-width="1.9"/>
<line x1="512.50" y1="936.80" x2="579.10" y2="936.80" stroke="#000" stroke-width="1.9"/>
<line x1="136.84" y1="1004.05" x2="614.2" y2="1004.05" stroke="#FF0000" stroke-width="2.2" stroke-linecap="round" stroke-dasharray="2.9,5.76"/>
<circle cx="210.30" cy="801.00" r="4.95" fill="#55A1F6" stroke="#111" stroke-width="1.0"/>
<circle cx="216.50" cy="801.40" r="4.95" fill="#55A1F6" stroke="#111" stroke-width="1.0"/>
<circle cx="216.20" cy="805.40" r="4.95" fill="#55A1F6" stroke="#111" stroke-width="1.0"/>
<circle cx="221.30" cy="794.80" r="4.95" fill="#55A1F6" stroke="#111" stroke-width="1.0"/>
<circle cx="227.50" cy="794.80" r="4.95" fill="#55A1F6" stroke="#111" stroke-width="1.0"/>
<circle cx="222.00" cy="811.30" r="4.95" fill="#55A1F6" stroke="#111" stroke-width="1.0"/>
<circle cx="226.40" cy="804.70" r="4.95" fill="#55A1F6" stroke="#111" stroke-width="1.0"/>
<circle cx="233.30" cy="801.00" r="4.95" fill="#55A1F6" stroke="#111" stroke-width="1.0"/>
<circle cx="233.70" cy="804.70" r="4.95" fill="#55A1F6" stroke="#111" stroke-width="1.0"/>
<circle cx="238.80" cy="806.20" r="4.95" fill="#55A1F6" stroke="#111" stroke-width="1.0"/>
<circle cx="240.20" cy="800.30" r="4.95" fill="#55A1F6" stroke="#111" stroke-width="1.0"/>
<circle cx="244.60" cy="797.40" r="4.95" fill="#55A1F6" stroke="#111" stroke-width="1.0"/>
<circle cx="245.30" cy="807.60" r="4.95" fill="#55A1F6" stroke="#111" stroke-width="1.0"/>
<circle cx="250.80" cy="798.50" r="4.95" fill="#55A1F6" stroke="#111" stroke-width="1.0"/>
<circle cx="251.20" cy="807.60" r="4.95" fill="#55A1F6" stroke="#111" stroke-width="1.0"/>
<circle cx="256.60" cy="794.50" r="4.95" fill="#55A1F6" stroke="#111" stroke-width="1.0"/>
<circle cx="256.60" cy="811.30" r="4.95" fill="#55A1F6" stroke="#111" stroke-width="1.0"/>
<circle cx="262.10" cy="798.10" r="4.95" fill="#55A1F6" stroke="#111" stroke-width="1.0"/>
<circle cx="262.10" cy="804.70" r="4.95" fill="#55A1F6" stroke="#111" stroke-width="1.0"/>
<circle cx="268.70" cy="801.00" r="4.95" fill="#55A1F6" stroke="#111" stroke-width="1.0"/>
<circle cx="242.00" cy="819.30" r="4.95" fill="#55A1F6" stroke="#111" stroke-width="1.0"/>
<circle cx="236.20" cy="822.20" r="4.95" fill="#55A1F6" stroke="#111" stroke-width="1.0"/>
<circle cx="236.60" cy="826.60" r="4.95" fill="#55A1F6" stroke="#111" stroke-width="1.0"/>
<circle cx="242.40" cy="827.30" r="4.95" fill="#55A1F6" stroke="#111" stroke-width="1.0"/>
<circle cx="242.00" cy="835.30" r="4.95" fill="#55A1F6" stroke="#111" stroke-width="1.0"/>
<circle cx="236.20" cy="841.90" r="4.95" fill="#55A1F6" stroke="#111" stroke-width="1.0"/>
<circle cx="235.80" cy="850.60" r="4.95" fill="#55A1F6" stroke="#111" stroke-width="1.0"/>
<circle cx="242.40" cy="853.60" r="4.95" fill="#55A1F6" stroke="#111" stroke-width="1.0"/>
<circle cx="239.50" cy="857.20" r="4.95" fill="#55A1F6" stroke="#111" stroke-width="1.0"/>
<circle cx="232.90" cy="863.00" r="4.95" fill="#55A1F6" stroke="#111" stroke-width="1.0"/>
<circle cx="245.30" cy="866.60" r="4.95" fill="#55A1F6" stroke="#111" stroke-width="1.0"/>
<circle cx="232.90" cy="870.20" r="4.95" fill="#55A1F6" stroke="#111" stroke-width="1.0"/>
<circle cx="239.10" cy="870.20" r="4.95" fill="#55A1F6" stroke="#111" stroke-width="1.0"/>
<circle cx="236.20" cy="876.80" r="4.95" fill="#55A1F6" stroke="#111" stroke-width="1.0"/>
<circle cx="242.00" cy="882.20" r="4.95" fill="#55A1F6" stroke="#111" stroke-width="1.0"/>
<circle cx="235.80" cy="891.40" r="4.95" fill="#55A1F6" stroke="#111" stroke-width="1.0"/>
<circle cx="242.00" cy="894.60" r="4.95" fill="#55A1F6" stroke="#111" stroke-width="1.0"/>
<circle cx="236.20" cy="901.20" r="4.95" fill="#55A1F6" stroke="#111" stroke-width="1.0"/>
<circle cx="242.40" cy="901.60" r="4.95" fill="#55A1F6" stroke="#111" stroke-width="1.0"/>
<circle cx="224.20" cy="910.30" r="4.95" fill="#55A1F6" stroke="#111" stroke-width="1.0"/>
<circle cx="229.30" cy="910.30" r="4.95" fill="#55A1F6" stroke="#111" stroke-width="1.0"/>
<circle cx="236.20" cy="910.30" r="4.95" fill="#55A1F6" stroke="#111" stroke-width="1.0"/>
<circle cx="242.40" cy="913.20" r="4.95" fill="#55A1F6" stroke="#111" stroke-width="1.0"/>
<circle cx="253.70" cy="916.50" r="4.95" fill="#55A1F6" stroke="#111" stroke-width="1.0"/>
<circle cx="233.30" cy="919.80" r="4.95" fill="#55A1F6" stroke="#111" stroke-width="1.0"/>
<circle cx="245.00" cy="919.80" r="4.95" fill="#55A1F6" stroke="#111" stroke-width="1.0"/>
<circle cx="239.50" cy="926.40" r="4.95" fill="#55A1F6" stroke="#111" stroke-width="1.0"/>
<circle cx="230.40" cy="928.90" r="4.95" fill="#55A1F6" stroke="#111" stroke-width="1.0"/>
<circle cx="253.70" cy="929.30" r="4.95" fill="#55A1F6" stroke="#111" stroke-width="1.0"/>
<circle cx="224.20" cy="935.90" r="4.95" fill="#55A1F6" stroke="#111" stroke-width="1.0"/>
<circle cx="236.20" cy="935.10" r="4.95" fill="#55A1F6" stroke="#111" stroke-width="1.0"/>
<circle cx="239.10" cy="938.80" r="4.95" fill="#55A1F6" stroke="#111" stroke-width="1.0"/>
<circle cx="247.90" cy="935.90" r="4.95" fill="#55A1F6" stroke="#111" stroke-width="1.0"/>
<circle cx="248.00" cy="950.50" r="4.95" fill="#55A1F6" stroke="#111" stroke-width="1.0"/>
<circle cx="230.20" cy="953.80" r="4.95" fill="#55A1F6" stroke="#111" stroke-width="1.0"/>
<circle cx="236.40" cy="957.40" r="4.95" fill="#55A1F6" stroke="#111" stroke-width="1.0"/>
<circle cx="242.20" cy="960.10" r="4.95" fill="#55A1F6" stroke="#111" stroke-width="1.0"/>
<circle cx="236.00" cy="962.70" r="4.95" fill="#55A1F6" stroke="#111" stroke-width="1.0"/>
<circle cx="233.30" cy="969.90" r="4.95" fill="#55A1F6" stroke="#111" stroke-width="1.0"/>
<circle cx="244.90" cy="969.90" r="4.95" fill="#55A1F6" stroke="#111" stroke-width="1.0"/>
<circle cx="239.10" cy="979.20" r="4.95" fill="#55A1F6" stroke="#111" stroke-width="1.0"/>
<circle cx="239.10" cy="987.20" r="4.95" fill="#55A1F6" stroke="#111" stroke-width="1.0"/>
<circle cx="236.00" cy="993.90" r="4.95" fill="#55A1F6" stroke="#111" stroke-width="1.0"/>
<circle cx="242.20" cy="994.40" r="4.95" fill="#55A1F6" stroke="#111" stroke-width="1.0"/>
<circle cx="236.40" cy="1001.50" r="4.95" fill="#55A1F6" stroke="#111" stroke-width="1.0"/>
<circle cx="241.80" cy="1001.50" r="4.95" fill="#55A1F6" stroke="#111" stroke-width="1.0"/>
<circle cx="233.30" cy="1022.40" r="4.95" fill="#55A1F6" stroke="#111" stroke-width="1.0"/>
<circle cx="244.90" cy="1025.60" r="4.95" fill="#55A1F6" stroke="#111" stroke-width="1.0"/>
<circle cx="239.10" cy="1029.10" r="4.95" fill="#55A1F6" stroke="#111" stroke-width="1.0"/>
<circle cx="239.10" cy="1036.70" r="4.95" fill="#55A1F6" stroke="#111" stroke-width="1.0"/>
<circle cx="233.30" cy="1041.60" r="4.95" fill="#55A1F6" stroke="#111" stroke-width="1.0"/>
<circle cx="244.90" cy="1041.60" r="4.95" fill="#55A1F6" stroke="#111" stroke-width="1.0"/>
<circle cx="312.40" cy="798.10" r="4.95" fill="#FC8080" stroke="#111" stroke-width="1.0"/>
<circle cx="320.40" cy="804.30" r="4.95" fill="#FC8080" stroke="#111" stroke-width="1.0"/>
<circle cx="328.80" cy="804.30" r="4.95" fill="#FC8080" stroke="#111" stroke-width="1.0"/>
<circle cx="337.20" cy="801.40" r="4.95" fill="#FC8080" stroke="#111" stroke-width="1.0"/>
<circle cx="345.20" cy="807.60" r="4.95" fill="#FC8080" stroke="#111" stroke-width="1.0"/>
<circle cx="353.60" cy="807.60" r="4.95" fill="#FC8080" stroke="#111" stroke-width="1.0"/>
<circle cx="353.60" cy="795.20" r="4.95" fill="#FC8080" stroke="#111" stroke-width="1.0"/>
<circle cx="362.00" cy="798.10" r="4.95" fill="#FC8080" stroke="#111" stroke-width="1.0"/>
<circle cx="370.00" cy="804.30" r="4.95" fill="#FC8080" stroke="#111" stroke-width="1.0"/>
<circle cx="328.80" cy="816.70" r="4.95" fill="#FC8080" stroke="#111" stroke-width="1.0"/>
<circle cx="336.80" cy="816.70" r="4.95" fill="#FC8080" stroke="#111" stroke-width="1.0"/>
<circle cx="345.20" cy="820.00" r="4.95" fill="#FC8080" stroke="#111" stroke-width="1.0"/>
<circle cx="353.60" cy="826.20" r="4.95" fill="#FC8080" stroke="#111" stroke-width="1.0"/>
<circle cx="320.40" cy="829.50" r="4.95" fill="#FC8080" stroke="#111" stroke-width="1.0"/>
<circle cx="328.80" cy="829.50" r="4.95" fill="#FC8080" stroke="#111" stroke-width="1.0"/>
<circle cx="345.20" cy="835.30" r="4.95" fill="#FC8080" stroke="#111" stroke-width="1.0"/>
<circle cx="353.60" cy="838.60" r="4.95" fill="#FC8080" stroke="#111" stroke-width="1.0"/>
<circle cx="362.00" cy="845.20" r="4.95" fill="#FC8080" stroke="#111" stroke-width="1.0"/>
<circle cx="320.40" cy="845.20" r="4.95" fill="#FC8080" stroke="#111" stroke-width="1.0"/>
<circle cx="328.80" cy="841.90" r="4.95" fill="#FC8080" stroke="#111" stroke-width="1.0"/>
<circle cx="336.80" cy="848.10" r="4.95" fill="#FC8080" stroke="#111" stroke-width="1.0"/>
<circle cx="328.80" cy="854.30" r="4.95" fill="#FC8080" stroke="#111" stroke-width="1.0"/>
<circle cx="353.60" cy="854.30" r="4.95" fill="#FC8080" stroke="#111" stroke-width="1.0"/>
<circle cx="345.20" cy="860.90" r="4.95" fill="#FC8080" stroke="#111" stroke-width="1.0"/>
<circle cx="336.80" cy="863.40" r="4.95" fill="#FC8080" stroke="#111" stroke-width="1.0"/>
<circle cx="353.60" cy="866.70" r="4.95" fill="#FC8080" stroke="#111" stroke-width="1.0"/>
<circle cx="345.20" cy="875.50" r="4.95" fill="#FC8080" stroke="#111" stroke-width="1.0"/>
<circle cx="345.20" cy="894.80" r="4.95" fill="#FC8080" stroke="#111" stroke-width="1.0"/>
<circle cx="336.80" cy="898.10" r="4.95" fill="#FC8080" stroke="#111" stroke-width="1.0"/>
<circle cx="345.20" cy="916.70" r="4.95" fill="#FC8080" stroke="#111" stroke-width="1.0"/>
<circle cx="336.80" cy="925.80" r="4.95" fill="#FC8080" stroke="#111" stroke-width="1.0"/>
<circle cx="345.20" cy="935.30" r="4.95" fill="#FC8080" stroke="#111" stroke-width="1.0"/>
<circle cx="361.60" cy="944.60" r="4.95" fill="#FC8080" stroke="#111" stroke-width="1.0"/>
<circle cx="336.80" cy="950.70" r="4.95" fill="#FC8080" stroke="#111" stroke-width="1.0"/>
<circle cx="328.80" cy="954.00" r="4.95" fill="#FC8080" stroke="#111" stroke-width="1.0"/>
<circle cx="345.20" cy="954.00" r="4.95" fill="#FC8080" stroke="#111" stroke-width="1.0"/>
<circle cx="353.60" cy="954.00" r="4.95" fill="#FC8080" stroke="#111" stroke-width="1.0"/>
<circle cx="361.60" cy="957.10" r="4.95" fill="#FC8080" stroke="#111" stroke-width="1.0"/>
<circle cx="320.40" cy="959.60" r="4.95" fill="#FC8080" stroke="#111" stroke-width="1.0"/>
<circle cx="336.80" cy="969.80" r="4.95" fill="#FC8080" stroke="#111" stroke-width="1.0"/>
<circle cx="336.80" cy="982.20" r="4.95" fill="#FC8080" stroke="#111" stroke-width="1.0"/>
<circle cx="345.20" cy="985.50" r="4.95" fill="#FC8080" stroke="#111" stroke-width="1.0"/>
<circle cx="345.20" cy="1001.20" r="4.95" fill="#FC8080" stroke="#111" stroke-width="1.0"/>
<circle cx="336.80" cy="1004.10" r="4.95" fill="#FC8080" stroke="#111" stroke-width="1.0"/>
<circle cx="345.20" cy="1016.80" r="4.95" fill="#FC8080" stroke="#111" stroke-width="1.0"/>
<circle cx="336.80" cy="1019.40" r="4.95" fill="#FC8080" stroke="#111" stroke-width="1.0"/>
<circle cx="337.00" cy="1066.30" r="4.95" fill="#FC8080" stroke="#111" stroke-width="1.0"/>
<circle cx="345.70" cy="1063.40" r="4.95" fill="#FC8080" stroke="#111" stroke-width="1.0"/>
<circle cx="328.90" cy="1097.40" r="4.95" fill="#FC8080" stroke="#111" stroke-width="1.0"/>
<circle cx="337.00" cy="1097.40" r="4.95" fill="#FC8080" stroke="#111" stroke-width="1.0"/>
<circle cx="345.40" cy="1097.40" r="4.95" fill="#FC8080" stroke="#111" stroke-width="1.0"/>
<circle cx="353.80" cy="1097.40" r="4.95" fill="#FC8080" stroke="#111" stroke-width="1.0"/>
<circle cx="419.70" cy="795.00" r="4.95" fill="#55A1F6" stroke="#111" stroke-width="1.0"/>
<circle cx="425.20" cy="798.20" r="4.95" fill="#55A1F6" stroke="#111" stroke-width="1.0"/>
<circle cx="430.30" cy="804.80" r="4.95" fill="#55A1F6" stroke="#111" stroke-width="1.0"/>
<circle cx="435.70" cy="798.20" r="4.95" fill="#55A1F6" stroke="#111" stroke-width="1.0"/>
<circle cx="440.80" cy="801.50" r="4.95" fill="#55A1F6" stroke="#111" stroke-width="1.0"/>
<circle cx="446.00" cy="801.50" r="4.95" fill="#55A1F6" stroke="#111" stroke-width="1.0"/>
<circle cx="451.10" cy="801.50" r="4.95" fill="#55A1F6" stroke="#111" stroke-width="1.0"/>
<circle cx="456.20" cy="801.50" r="4.95" fill="#55A1F6" stroke="#111" stroke-width="1.0"/>
<circle cx="462.00" cy="798.60" r="4.95" fill="#55A1F6" stroke="#111" stroke-width="1.0"/>
<circle cx="467.10" cy="792.00" r="4.95" fill="#55A1F6" stroke="#111" stroke-width="1.0"/>
<circle cx="430.30" cy="823.00" r="4.95" fill="#55A1F6" stroke="#111" stroke-width="1.0"/>
<circle cx="435.40" cy="826.30" r="4.95" fill="#55A1F6" stroke="#111" stroke-width="1.0"/>
<circle cx="446.00" cy="819.80" r="4.95" fill="#55A1F6" stroke="#111" stroke-width="1.0"/>
<circle cx="451.40" cy="823.40" r="4.95" fill="#55A1F6" stroke="#111" stroke-width="1.0"/>
<circle cx="456.90" cy="823.40" r="4.95" fill="#55A1F6" stroke="#111" stroke-width="1.0"/>
<circle cx="451.40" cy="835.10" r="4.95" fill="#55A1F6" stroke="#111" stroke-width="1.0"/>
<circle cx="435.70" cy="838.40" r="4.95" fill="#55A1F6" stroke="#111" stroke-width="1.0"/>
<circle cx="440.80" cy="838.40" r="4.95" fill="#55A1F6" stroke="#111" stroke-width="1.0"/>
<circle cx="446.00" cy="839.10" r="4.95" fill="#55A1F6" stroke="#111" stroke-width="1.0"/>
<circle cx="430.30" cy="842.00" r="4.95" fill="#55A1F6" stroke="#111" stroke-width="1.0"/>
<circle cx="420.40" cy="844.60" r="4.95" fill="#55A1F6" stroke="#111" stroke-width="1.0"/>
<circle cx="425.20" cy="846.00" r="4.95" fill="#55A1F6" stroke="#111" stroke-width="1.0"/>
<circle cx="414.60" cy="848.20" r="4.95" fill="#55A1F6" stroke="#111" stroke-width="1.0"/>
<circle cx="467.10" cy="841.60" r="4.95" fill="#55A1F6" stroke="#111" stroke-width="1.0"/>
<circle cx="472.20" cy="845.30" r="4.95" fill="#55A1F6" stroke="#111" stroke-width="1.0"/>
<circle cx="462.00" cy="848.60" r="4.95" fill="#55A1F6" stroke="#111" stroke-width="1.0"/>
<circle cx="457.30" cy="847.80" r="4.95" fill="#55A1F6" stroke="#111" stroke-width="1.0"/>
<circle cx="435.40" cy="851.80" r="4.95" fill="#55A1F6" stroke="#111" stroke-width="1.0"/>
<circle cx="440.80" cy="851.80" r="4.95" fill="#55A1F6" stroke="#111" stroke-width="1.0"/>
<circle cx="446.00" cy="851.80" r="4.95" fill="#55A1F6" stroke="#111" stroke-width="1.0"/>
<circle cx="451.40" cy="851.80" r="4.95" fill="#55A1F6" stroke="#111" stroke-width="1.0"/>
<circle cx="435.00" cy="866.60" r="4.95" fill="#55A1F6" stroke="#111" stroke-width="1.0"/>
<circle cx="440.50" cy="866.60" r="4.95" fill="#55A1F6" stroke="#111" stroke-width="1.0"/>
<circle cx="451.40" cy="869.80" r="4.95" fill="#55A1F6" stroke="#111" stroke-width="1.0"/>
<circle cx="456.90" cy="873.10" r="4.95" fill="#55A1F6" stroke="#111" stroke-width="1.0"/>
<circle cx="435.00" cy="879.00" r="4.95" fill="#55A1F6" stroke="#111" stroke-width="1.0"/>
<circle cx="440.50" cy="882.20" r="4.95" fill="#55A1F6" stroke="#111" stroke-width="1.0"/>
<circle cx="446.00" cy="882.20" r="4.95" fill="#55A1F6" stroke="#111" stroke-width="1.0"/>
<circle cx="456.90" cy="885.50" r="4.95" fill="#55A1F6" stroke="#111" stroke-width="1.0"/>
<circle cx="429.90" cy="888.80" r="4.95" fill="#55A1F6" stroke="#111" stroke-width="1.0"/>
<circle cx="451.40" cy="891.70" r="4.95" fill="#55A1F6" stroke="#111" stroke-width="1.0"/>
<circle cx="440.50" cy="894.60" r="4.95" fill="#55A1F6" stroke="#111" stroke-width="1.0"/>
<circle cx="446.00" cy="901.20" r="4.95" fill="#55A1F6" stroke="#111" stroke-width="1.0"/>
<circle cx="435.40" cy="904.10" r="4.95" fill="#55A1F6" stroke="#111" stroke-width="1.0"/>
<circle cx="440.50" cy="910.70" r="4.95" fill="#55A1F6" stroke="#111" stroke-width="1.0"/>
<circle cx="451.40" cy="907.40" r="4.95" fill="#55A1F6" stroke="#111" stroke-width="1.0"/>
<circle cx="451.40" cy="919.80" r="4.95" fill="#55A1F6" stroke="#111" stroke-width="1.0"/>
<circle cx="440.50" cy="929.30" r="4.95" fill="#55A1F6" stroke="#111" stroke-width="1.0"/>
<circle cx="446.00" cy="929.30" r="4.95" fill="#55A1F6" stroke="#111" stroke-width="1.0"/>
<circle cx="446.00" cy="950.50" r="4.95" fill="#55A1F6" stroke="#111" stroke-width="1.0"/>
<circle cx="435.20" cy="957.00" r="4.95" fill="#55A1F6" stroke="#111" stroke-width="1.0"/>
<circle cx="440.90" cy="957.60" r="4.95" fill="#55A1F6" stroke="#111" stroke-width="1.0"/>
<circle cx="451.60" cy="963.30" r="4.95" fill="#55A1F6" stroke="#111" stroke-width="1.0"/>
<circle cx="435.20" cy="972.90" r="4.95" fill="#55A1F6" stroke="#111" stroke-width="1.0"/>
<circle cx="440.90" cy="972.90" r="4.95" fill="#55A1F6" stroke="#111" stroke-width="1.0"/>
<circle cx="446.50" cy="972.90" r="4.95" fill="#55A1F6" stroke="#111" stroke-width="1.0"/>
<circle cx="440.30" cy="991.60" r="4.95" fill="#55A1F6" stroke="#111" stroke-width="1.0"/>
<circle cx="451.60" cy="991.60" r="4.95" fill="#55A1F6" stroke="#111" stroke-width="1.0"/>
<circle cx="446.00" cy="997.90" r="4.95" fill="#55A1F6" stroke="#111" stroke-width="1.0"/>
<circle cx="435.20" cy="1007.00" r="4.95" fill="#55A1F6" stroke="#111" stroke-width="1.0"/>
<circle cx="451.60" cy="1007.00" r="4.95" fill="#55A1F6" stroke="#111" stroke-width="1.0"/>
<circle cx="440.30" cy="1016.60" r="4.95" fill="#55A1F6" stroke="#111" stroke-width="1.0"/>
<circle cx="446.00" cy="1016.60" r="4.95" fill="#55A1F6" stroke="#111" stroke-width="1.0"/>
<circle cx="446.50" cy="1029.10" r="4.95" fill="#55A1F6" stroke="#111" stroke-width="1.0"/>
<circle cx="440.30" cy="1035.30" r="4.95" fill="#55A1F6" stroke="#111" stroke-width="1.0"/>
<circle cx="440.30" cy="1047.80" r="4.95" fill="#55A1F6" stroke="#111" stroke-width="1.0"/>
<circle cx="446.50" cy="1044.40" r="4.95" fill="#55A1F6" stroke="#111" stroke-width="1.0"/>
<circle cx="446.50" cy="1060.30" r="4.95" fill="#55A1F6" stroke="#111" stroke-width="1.0"/>
<circle cx="440.30" cy="1066.50" r="4.95" fill="#55A1F6" stroke="#111" stroke-width="1.0"/>
<circle cx="524.80" cy="798.30" r="4.95" fill="#FC8080" stroke="#111" stroke-width="1.0"/>
<circle cx="566.60" cy="795.20" r="4.95" fill="#FC8080" stroke="#111" stroke-width="1.0"/>
<circle cx="545.80" cy="807.60" r="4.95" fill="#FC8080" stroke="#111" stroke-width="1.0"/>
<circle cx="524.80" cy="829.30" r="4.95" fill="#FC8080" stroke="#111" stroke-width="1.0"/>
<circle cx="566.60" cy="832.40" r="4.95" fill="#FC8080" stroke="#111" stroke-width="1.0"/>
<circle cx="545.80" cy="842.00" r="4.95" fill="#FC8080" stroke="#111" stroke-width="1.0"/>
<circle cx="545.80" cy="854.40" r="4.95" fill="#FC8080" stroke="#111" stroke-width="1.0"/>
<circle cx="556.20" cy="876.20" r="4.95" fill="#FC8080" stroke="#111" stroke-width="1.0"/>
<circle cx="535.40" cy="882.30" r="4.95" fill="#FC8080" stroke="#111" stroke-width="1.0"/>
<circle cx="524.80" cy="929.10" r="4.95" fill="#FC8080" stroke="#111" stroke-width="1.0"/>
<circle cx="566.60" cy="932.30" r="4.95" fill="#FC8080" stroke="#111" stroke-width="1.0"/>
<circle cx="545.80" cy="941.80" r="4.95" fill="#FC8080" stroke="#111" stroke-width="1.0"/>
<circle cx="545.80" cy="994.90" r="4.95" fill="#FC8080" stroke="#111" stroke-width="1.0"/>
<circle cx="545.80" cy="1010.60" r="4.95" fill="#FC8080" stroke="#111" stroke-width="1.0"/>
<circle cx="524.80" cy="1026.10" r="4.95" fill="#FC8080" stroke="#111" stroke-width="1.0"/>
<circle cx="545.80" cy="1032.30" r="4.95" fill="#FC8080" stroke="#111" stroke-width="1.0"/>
<circle cx="545.80" cy="1050.30" r="4.95" fill="#FC8080" stroke="#111" stroke-width="1.0"/>
<circle cx="524.80" cy="1075.80" r="4.95" fill="#FC8080" stroke="#111" stroke-width="1.0"/>
<circle cx="545.80" cy="1079.20" r="4.95" fill="#FC8080" stroke="#111" stroke-width="1.0"/>
<circle cx="566.60" cy="1072.60" r="4.95" fill="#FC8080" stroke="#111" stroke-width="1.0"/>
<circle cx="566.60" cy="1085.40" r="4.95" fill="#FC8080" stroke="#111" stroke-width="1.0"/>
<circle cx="524.80" cy="1091.60" r="4.95" fill="#FC8080" stroke="#111" stroke-width="1.0"/>
<line x1="859.90" y1="784.60" x2="859.90" y2="1098.30" stroke="#000" stroke-width="1.8"/>
<line x1="845.80" y1="1097.50" x2="859.90" y2="1097.50" stroke="#000" stroke-width="1.6"/>
<text x="843.00" y="1105.40" font-size="24" text-anchor="end" font-weight="normal" fill="#000">0</text>
<line x1="845.80" y1="1035.08" x2="859.90" y2="1035.08" stroke="#000" stroke-width="1.6"/>
<text x="843.00" y="1042.98" font-size="24" text-anchor="end" font-weight="normal" fill="#000">20</text>
<line x1="845.80" y1="972.66" x2="859.90" y2="972.66" stroke="#000" stroke-width="1.6"/>
<text x="843.00" y="980.56" font-size="24" text-anchor="end" font-weight="normal" fill="#000">40</text>
<line x1="845.80" y1="910.24" x2="859.90" y2="910.24" stroke="#000" stroke-width="1.6"/>
<text x="843.00" y="918.14" font-size="24" text-anchor="end" font-weight="normal" fill="#000">60</text>
<line x1="845.80" y1="847.82" x2="859.90" y2="847.82" stroke="#000" stroke-width="1.6"/>
<text x="843.00" y="855.72" font-size="24" text-anchor="end" font-weight="normal" fill="#000">80</text>
<line x1="845.80" y1="785.40" x2="859.90" y2="785.40" stroke="#000" stroke-width="1.6"/>
<text x="843.00" y="793.30" font-size="24" text-anchor="end" font-weight="normal" fill="#000">100</text>
<text x="786.30" y="940.40" font-size="29" text-anchor="middle" font-weight="normal" fill="#000" transform="rotate(-90 786.3 940.4)">Subjects (%)</text>
<line x1="893.30" y1="1132.30" x2="1071.20" y2="1132.30" stroke="#000" stroke-width="1.9"/>
<line x1="938.10" y1="1132.30" x2="938.10" y2="1145.90" stroke="#000" stroke-width="1.7"/>
<line x1="1026.00" y1="1132.30" x2="1026.00" y2="1145.90" stroke="#000" stroke-width="1.7"/>
<text x="938.90" y="1170.20" font-size="24" text-anchor="middle" font-weight="normal" fill="#000">+60 v2</text>
<text x="1026.80" y="1170.20" font-size="24" text-anchor="middle" font-weight="normal" fill="#000">+150 v2</text>
<text x="983.00" y="1212.50" font-size="28.7" text-anchor="middle" font-weight="normal" fill="#000">time (days)</text>
<line x1="938.40" y1="810.30" x2="1026.10" y2="828.90" stroke="#55A1F6" stroke-width="1.6"/>
<line x1="938.40" y1="832.10" x2="1026.10" y2="916.40" stroke="#FC8080" stroke-width="1.8"/>
<circle cx="938.40" cy="810.30" r="6.6" fill="#55A1F6" stroke="#000" stroke-width="2.0"/>
<circle cx="1026.10" cy="828.90" r="6.6" fill="#55A1F6" stroke="#000" stroke-width="2.0"/>
<circle cx="938.40" cy="832.10" r="6.6" fill="#FC8080" stroke="#000" stroke-width="2.0"/>
<circle cx="1026.10" cy="916.40" r="6.6" fill="#FC8080" stroke="#000" stroke-width="2.0"/>
<polyline points="1046.00,826.50 1068.20,826.50 1068.20,919.60 1046.00,919.60" fill="none" stroke="#4a4a4a" stroke-width="1.4"/>
<polyline points="938.30,852.40 938.30,958.20 1026.40,958.20 1026.40,941.00" fill="none" stroke="#4a4a4a" stroke-width="1.4"/>
<path d="M1087.30,868.60L1087.30,878.60M1082.97,871.10L1091.63,876.10M1082.97,876.10L1091.63,871.10" stroke="#000" stroke-width="2.4" stroke-linecap="round" fill="none"/>
<path d="M986.10,974.60L986.10,984.60M981.77,977.10L990.43,982.10M981.77,982.10L990.43,977.10" stroke="#000" stroke-width="2.4" stroke-linecap="round" fill="none"/>
</svg></body></html>
